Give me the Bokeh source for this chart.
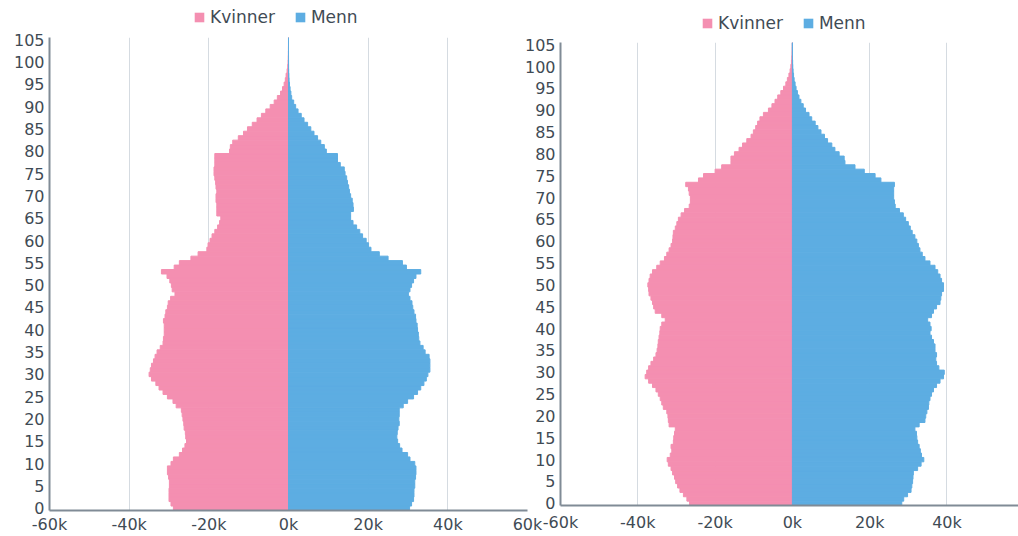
from bokeh.plotting import figure
from bokeh.models import ColumnDataSource, FixedTicker, Legend, LegendItem, Span, Range1d
from bokeh.layouts import row, column
from bokeh.embed import file_html
from bokeh.resources import INLINE

# ---------------- data ----------------
ages = list(range(0, 106))
series_names = ["Kvinner", "Menn"]
x_ticks = [-60000, -40000, -20000, 0, 20000, 40000, 60000]
x_tick_labels = ["-60k", "-40k", "-20k", "0k", "20k", "40k", "60k"]
y_ticks = list(range(0, 106, 5))

# population per age, in thousands (left chart)
kvinner_1 = [28.9, 29.5, 30.0, 30.0, 30.0, 29.9, 29.9, 30.1, 30.4, 30.4,
             29.5, 28.9, 27.4, 26.6, 26.0, 25.6, 25.8, 25.9, 26.2, 26.3,
             26.5, 26.7, 26.9, 28.2, 29.0, 30.4, 31.5, 32.5, 33.3, 34.4,
             35.0, 34.7, 34.4, 33.9, 33.5, 33.0, 32.2, 31.5, 31.4, 31.2,
             31.2, 31.2, 31.4, 31.0, 30.8, 30.4, 30.2, 29.6, 28.5, 29.2,
             29.4, 29.8, 30.5, 31.9, 28.7, 27.4, 24.5, 22.7, 20.5, 20.2,
             19.7, 19.2, 18.5, 17.8, 17.3, 17.0, 18.0, 18.0, 18.0, 18.2,
             18.2, 18.0, 18.2, 18.3, 18.5, 18.7, 18.7, 18.5, 18.5, 18.5,
             14.8, 14.6, 14.0, 12.6, 11.3, 10.3, 9.1, 7.9, 6.8, 5.7,
             4.6, 3.6, 2.8, 2.0, 1.5, 1.1, 0.8, 0.6, 0.35, 0.2,
             0.12, 0.07, 0.04, 0.02, 0.01, 0.005]
menn_1 = [30.4, 30.9, 31.4, 31.5, 31.5, 31.7, 31.7, 31.9, 32.0, 32.0,
          31.7, 30.5, 29.9, 28.5, 27.9, 27.4, 27.2, 27.3, 27.5, 27.8,
          27.7, 27.8, 27.8, 28.8, 29.9, 31.4, 32.4, 33.2, 34.0, 34.6,
          35.0, 35.5, 35.5, 35.5, 35.3, 34.3, 33.8, 33.0, 32.7, 32.6,
          32.4, 32.3, 32.0, 31.9, 31.5, 31.2, 31.0, 30.5, 30.1, 30.5,
          30.9, 31.4, 32.0, 33.2, 29.6, 28.6, 25.0, 22.8, 20.7, 20.1,
          19.5, 18.6, 17.9, 17.1, 16.2, 15.6, 15.6, 16.3, 16.2, 16.0,
          15.6, 15.3, 15.1, 14.8, 14.6, 14.2, 14.0, 13.0, 12.3, 12.3,
          9.5, 9.0, 8.1, 7.3, 6.4, 5.6, 4.8, 3.9, 3.2, 2.4,
          1.8, 1.3, 0.8, 0.6, 0.4, 0.25, 0.15, 0.1, 0.05, 0.03,
          0.02, 0.01, 0.005, 0.003, 0.002, 0.001]

# population per age, in thousands (right chart)
kvinner_2 = [26.6, 27.3, 28.2, 29.1, 29.7, 30.2, 30.5, 31.0, 31.4, 32.1,
             32.4, 31.6, 31.2, 31.4, 30.8, 30.7, 30.5, 30.3, 31.9, 32.1,
             32.2, 32.5, 33.4, 33.8, 34.2, 34.7, 35.3, 36.2, 37.2, 38.1,
             37.7, 37.2, 36.6, 35.9, 35.3, 35.0, 34.8, 34.7, 34.5, 34.3,
             34.2, 33.8, 32.9, 33.8, 35.5, 35.9, 36.2, 36.6, 37.1, 37.2,
             37.4, 37.1, 36.8, 36.2, 35.1, 34.2, 33.1, 32.5, 31.9, 31.4,
             31.0, 30.9, 30.8, 30.3, 29.9, 29.5, 28.8, 27.9, 26.7, 26.4,
             26.4, 26.7, 26.9, 27.6, 24.3, 23.0, 20.0, 18.3, 15.9, 15.9,
             15.0, 13.8, 12.9, 11.8, 10.7, 10.1, 9.5, 9.0, 8.4, 7.5,
             6.2, 5.3, 4.5, 3.8, 3.0, 2.3, 1.7, 1.3, 0.9, 0.6,
             0.4, 0.25, 0.15, 0.08, 0.04, 0.02]
menn_2 = [28.3, 28.8, 29.8, 30.7, 30.9, 31.1, 31.2, 31.3, 32.4, 33.3,
          34.0, 33.4, 33.1, 32.8, 32.4, 32.2, 32.1, 31.7, 32.8, 34.3,
          34.5, 34.8, 35.2, 35.3, 35.6, 36.0, 36.5, 37.3, 38.2, 39.1,
          39.3, 37.9, 37.3, 37.1, 37.3, 36.9, 36.9, 36.5, 36.0, 35.6,
          35.9, 35.6, 35.0, 36.0, 36.5, 37.3, 38.2, 38.4, 38.6, 39.1,
          39.1, 38.6, 38.2, 37.6, 36.9, 35.6, 34.3, 33.6, 33.0, 32.6,
          32.2, 31.7, 31.0, 30.5, 30.0, 29.3, 28.7, 27.7, 26.6, 26.4,
          26.2, 26.2, 26.2, 26.4, 22.9, 21.4, 18.6, 16.2, 13.6, 13.4,
          12.1, 11.0, 10.2, 9.1, 8.3, 7.4, 6.6, 5.9, 5.0, 4.3,
          3.4, 2.8, 2.2, 1.7, 1.3, 0.95, 0.7, 0.45, 0.3, 0.18,
          0.1, 0.06, 0.03, 0.02, 0.01, 0.005]

# ---------------- style ----------------
FONT = "DejaVu Sans"
TEXT = "#3f4b55"
PINK = "#f48fb1"
BLUE = "#5dade2"
GRID = "#d5dbe1"
AXIS = "#808b96"


def make_legend(width, height, lx, ly):
    lf = figure(width=width, height=height, x_range=Range1d(0, 1), y_range=Range1d(0, 1),
                output_backend="svg", toolbar_location=None, min_border=0,
                x_axis_location=None, y_axis_location=None)
    lf.grid.visible = False
    lf.outline_line_color = None
    lf.border_fill_alpha = 0
    lf.background_fill_alpha = 0
    # zero-size proxy bars: they only supply the legend swatches
    proxy = ColumnDataSource(dict(y=[0], left=[0], right=[0]))
    g1 = lf.hbar(y="y", left="left", right="right", height=0, source=proxy,
                 fill_color=PINK, line_color=None)
    g2 = lf.hbar(y="y", left="left", right="right", height=0, source=proxy,
                 fill_color=BLUE, line_color=None)
    legend = Legend(items=[LegendItem(label=series_names[0], renderers=[g1]),
                           LegendItem(label=series_names[1], renderers=[g2])],
                    orientation="horizontal", location=(lx, ly),
                    padding=0, margin=0, spacing=19, label_standoff=5,
                    glyph_width=12, glyph_height=12,
                    border_line_color=None, background_fill_alpha=0,
                    label_text_font=FONT, label_text_font_size="17px",
                    label_text_color=TEXT)
    lf.add_layout(legend, "center")
    return lf


def make_chart(kv, me, width, height, x_end, min_left, min_right, min_top, min_bottom, x_standoff):
    p = figure(width=width, height=height,
               x_range=Range1d(-60000, x_end), y_range=Range1d(-0.5, 105.5),
               output_backend="svg", toolbar_location=None,
               min_border_left=min_left, min_border_right=min_right,
               min_border_top=min_top, min_border_bottom=min_bottom)
    src = ColumnDataSource(dict(
        age=ages,
        kv=[-v * 1000 for v in kv],
        me=[v * 1000 for v in me],
        zero=[0] * len(ages),
    ))
    zero_line = Span(location=0, dimension="height", line_color="#8c8594",
                     line_width=1, level="underlay")
    p.add_layout(zero_line)
    p.hbar(y="age", left="kv", right="zero", height=1, source=src,
           fill_color=PINK, line_color=PINK, line_width=1)
    p.hbar(y="age", left="zero", right="me", height=1, source=src,
           fill_color=BLUE, line_color=BLUE, line_width=1)

    p.outline_line_color = None
    p.ygrid.visible = False
    p.xgrid.ticker = FixedTicker(ticks=x_ticks)
    p.xgrid.grid_line_color = GRID
    p.xgrid.grid_line_width = 1

    p.xaxis.ticker = FixedTicker(ticks=x_ticks)
    p.xaxis.major_label_overrides = dict(zip(x_ticks, x_tick_labels))
    p.yaxis.ticker = FixedTicker(ticks=y_ticks)
    for ax in (p.xaxis, p.yaxis):
        ax.axis_line_color = AXIS
        ax.axis_line_width = 2
        ax.major_tick_line_color = None
        ax.minor_tick_line_color = None
        ax.major_tick_out = 0
        ax.major_tick_in = 0
        ax.major_label_text_font = FONT
        ax.major_label_text_font_size = "16px"
        ax.major_label_text_color = TEXT
    p.xaxis.major_label_text_line_height = 1.0
    p.xaxis.major_label_standoff = x_standoff
    p.yaxis.major_label_standoff = 5
    return p


# left chart: page x 0..545, legend strip 27 px, chart 509 px
lf1 = make_legend(545, 27, 144, 0)
p1 = make_chart(kvinner_1, menn_1, 545, 509, 60000, 49, 18, 10, 23, 4)
p1.border_fill_color = None

# right chart: page x 520..1018, legend strip 34 px, chart 502 px
lf2 = make_legend(498, 34, 141, 1)
p2 = make_chart(kvinner_2, menn_2, 498, 502, 58500, 40, 0, 8, 31, 7)
p2.border_fill_alpha = 0

col1 = column(lf1, p1)
col2 = column(lf2, p2)
col2.margin = (0, 0, 0, -25)

layout = row(col1, col2)
open("out.html", "w").write(file_html(layout, INLINE))
